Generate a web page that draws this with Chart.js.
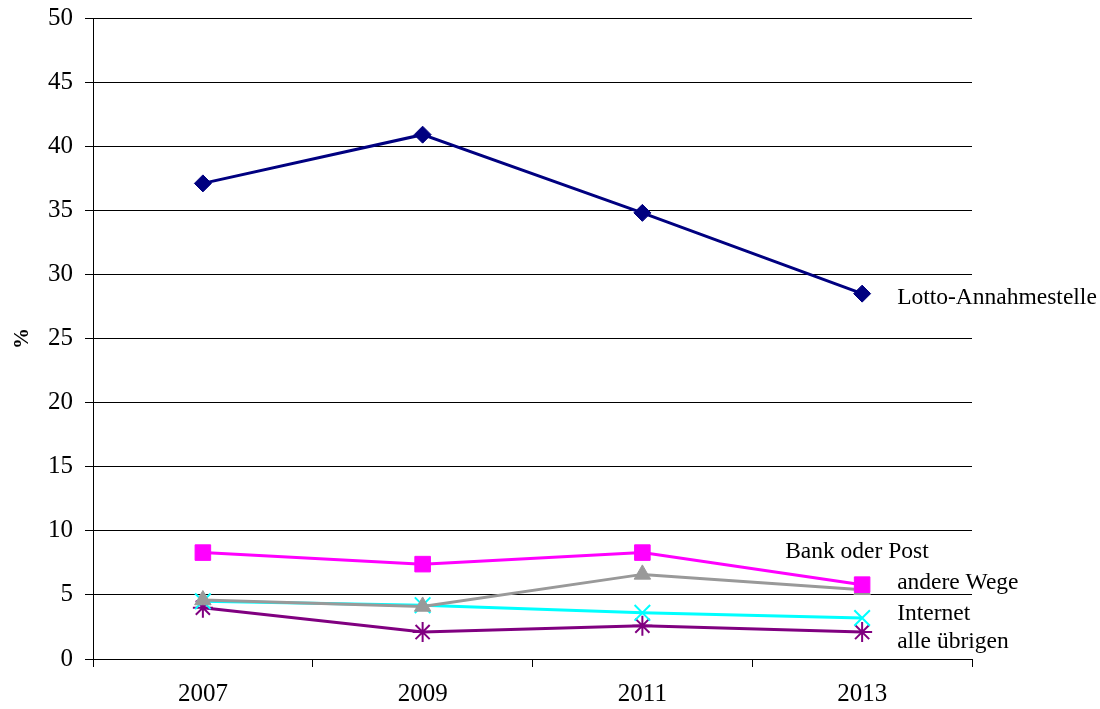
<!DOCTYPE html>
<html>
<head>
<meta charset="utf-8">
<script src="https://cdn.jsdelivr.net/npm/chart.js@4/dist/chart.umd.min.js"></script>
<style>
  body { margin: 0; background: #fff; }
</style>
</head>
<body>
<canvas id="lottoChart" width="1100" height="709"></canvas>
<script>
const years = ['2007', '2009', '2011', '2013'];
const seriesNames = ['Lotto-Annahmestelle', 'Bank oder Post', 'andere Wege', 'Internet', 'alle übrigen'];
const lotto = [37.1, 40.9, 34.8, 28.5];
const bankPost = [8.3, 7.4, 8.3, 5.8];
const andereWege = [4.6, 4.1, 6.6, 5.4];
const internet = [4.5, 4.2, 3.6, 3.2];
const alleUebrigen = [4.0, 2.1, 2.6, 2.1];

// look of each series
const colors = ['#000080', '#ff00ff', '#999999', '#00ffff', '#800080'];
const markers = ['rectRot', 'rect', 'triangle', 'crossRot', 'star'];
const markerSizes = [8.5, 11, 9.5, 11, 10];
// where the end label sits relative to the last point (dx, dy)
const labelOffsets = [[35, 4], [-77, -33], [35, -7], [35, -4], [35, 10]];

const serif = 'Liberation Serif, Times New Roman, serif';
const allValues = [lotto, bankPost, andereWege, internet, alleUebrigen];

const endLabels = {
  id: 'endLabels',
  afterDatasetsDraw(chart) {
    const ctx = chart.ctx;
    ctx.save();
    ctx.font = '23.5px ' + serif;
    ctx.fillStyle = '#000';
    ctx.textAlign = 'left';
    ctx.textBaseline = 'middle';
    chart.data.datasets.forEach((ds, i) => {
      const pts = chart.getDatasetMeta(i).data;
      const last = pts[pts.length - 1];
      ctx.fillText(ds.label, last.x + labelOffsets[i][0], last.y + labelOffsets[i][1]);
    });
    ctx.restore();
  }
};

new Chart(document.getElementById('lottoChart').getContext('2d'), {
  type: 'line',
  data: {
    labels: years,
    datasets: allValues.map((vals, i) => ({
      label: seriesNames[i],
      data: vals,
      order: i,
      borderColor: colors[i],
      backgroundColor: colors[i],
      borderWidth: 3,
      pointStyle: markers[i],
      pointRadius: markerSizes[i],
      pointBorderWidth: markers[i] === 'crossRot' || markers[i] === 'star' ? 2 : 1,
      pointBorderColor: colors[i],
      pointBackgroundColor: colors[i],
      tension: 0
    }))
  },
  options: {
    responsive: false,
    animation: false,
    layout: { padding: { top: 18, right: 128, left: 0, bottom: 0 } },
    plugins: {
      legend: { display: false },
      tooltip: { enabled: false }
    },
    scales: {
      x: {
        offset: true,
        grid: { offset: true, drawOnChartArea: false, color: '#000', tickLength: 8 },
        border: { color: '#000' },
        ticks: { color: '#000', font: { family: serif, size: 25 }, padding: 12, maxRotation: 0 },
        afterFit(scale) { scale.height = 50; }
      },
      y: {
        min: 0,
        max: 50,
        grid: { color: '#000', tickLength: 8 },
        border: { color: '#000' },
        ticks: { stepSize: 5, color: '#000', font: { family: serif, size: 25 }, padding: 12 },
        title: { display: true, text: '%', color: '#000', font: { family: serif, size: 21, weight: 'bold' }, padding: { top: 10, bottom: 0 } },
        afterFit(scale) {
          scale.width = 93;
          scale.paddingTop = 0;
          scale.paddingBottom = 0;
        }
      }
    }
  },
  plugins: [endLabels]
});
</script>
</body>
</html>
